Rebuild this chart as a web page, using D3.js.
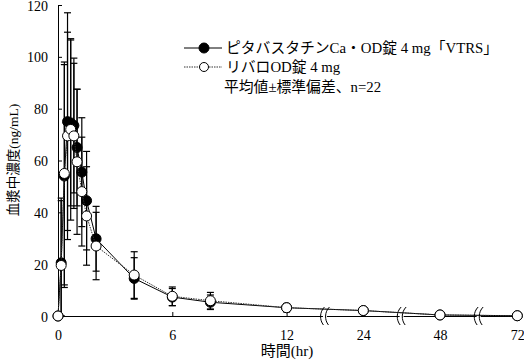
<!DOCTYPE html>
<html><head><meta charset="utf-8">
<script src="https://cdn.jsdelivr.net/npm/d3@7"></script>
<style>
html,body{margin:0;padding:0;background:#fff;}
text{font-family:"Liberation Serif","Noto Sans CJK JP",serif;fill:#000;}
</style></head>
<body><svg id="c" width="524" height="360"></svg>
<script>
const times = [0, 1/6, 1/3, 0.5, 2/3, 5/6, 1, 1.25, 1.5, 2, 4, 6, 8, 12, 24, 48, 72];
const testMean = [0, 20.5, 54, 75, 74.5, 73.5, 65, 55.5, 44.5, 29.8, 14.5, 7.3, 5.3, 3.2, 2.1, 0.4, 0.1];
const testSD   = [0, 24, 43, 42, 32, 26, 22.5, 21, 19, 12.5, 8, 3.3, 2.8, 1.5, 1, 0.3, 0.1];
const refMean  = [0, 19.5, 55, 69.5, 72, 69.5, 59.5, 48, 38.6, 27, 15.8, 7.6, 5.9, 3.2, 2.1, 0.4, 0.1];
const refSD    = [0, 26, 43, 40, 35, 28, 28, 21, 19, 13, 9, 3.6, 3.2, 1.6, 1, 0.3, 0.1];
const xTicks = [0, 6, 12, 24, 48, 72];
const yTicks = [0, 20, 40, 60, 80, 100, 120];
const xBreaks = [18, 36, 60];
const seriesNames = ["ピタバスタチンCa・OD錠 4 mg「VTRS」", "リバロOD錠 4 mg"];
const noteText = "平均値±標準偏差、n=22";
const xTitle = "時間(hr)";
const yTitle = "血漿中濃度(ng/mL)";

const svg = d3.select("#c");
const x = d3.scaleLinear().domain([0, 12, 24, 48, 72]).range([58, 286.6, 363.3, 440, 517.3]);
const y = d3.scaleLinear().domain([0, 120]).range([316, 5]);

// axes
const yAxis = d3.axisLeft(y).tickValues(yTicks).tickSize(-4).tickPadding(10).tickSizeOuter(0);
const gy = svg.append("g").attr("transform", `translate(${x(0)},0)`).call(yAxis);
gy.selectAll("text").attr("font-size", 14).attr("dy", "0.36em");
gy.select(".domain").attr("stroke", "#000");
const xAxis = d3.axisBottom(x).tickValues(xTicks).tickSize(-4).tickPadding(14).tickSizeOuter(0);
const gx = svg.append("g").attr("transform", `translate(0,${y(0)})`).call(xAxis);
gx.selectAll("text").attr("font-size", 14);
gx.select(".domain").attr("d", `M${x(0)},0.5H${x(72)}`);

// axis breaks
const gb = svg.append("g");
xBreaks.forEach(b => {
  const bx = x(b), by = y(0);
  gb.append("rect").attr("x", bx - 2).attr("y", by - 2).attr("width", 4).attr("height", 4).attr("fill", "#fff");
  [-2.5, 2.5].forEach(o => {
    gb.append("path")
      .attr("d", `M${bx + o + 2},${by - 9} C${bx + o - 3},${by - 4} ${bx + o - 3},${by + 4} ${bx + o + 1},${by + 9}`)
      .attr("fill", "none").attr("stroke", "#000").attr("stroke-width", 1);
  });
});

function drawSeries(mean, sd, filled, dash) {
  const g = svg.append("g");
  const data = times.map((t, i) => ({t, m: mean[i], s: sd[i]}));
  data.filter(d => d.s > 0).forEach(d => {
    const cx = x(d.t), y1 = y(d.m + d.s), y2 = y(Math.max(0, d.m - d.s));
    g.append("line").attr("x1", cx).attr("x2", cx).attr("y1", y1).attr("y2", y2).attr("stroke", "#000").attr("stroke-width", 1.2);
    g.append("line").attr("x1", cx - 3.5).attr("x2", cx + 3.5).attr("y1", y1).attr("y2", y1).attr("stroke", "#000").attr("stroke-width", 1.2);
    g.append("line").attr("x1", cx - 3.5).attr("x2", cx + 3.5).attr("y1", y2).attr("y2", y2).attr("stroke", "#000").attr("stroke-width", 1.2);
  });
  const line = d3.line().x(d => x(d.t)).y(d => y(d.m));
  g.append("path").datum(data).attr("d", line).attr("fill", "none")
    .attr("stroke", dash ? "#333" : "#000").attr("stroke-width", 1)
    .attr("stroke-dasharray", dash ? "1.5,1" : null);
  g.selectAll("circle").data(data).join("circle")
    .attr("cx", d => x(d.t)).attr("cy", d => y(d.m)).attr("r", 5)
    .attr("fill", filled ? "#000" : "#fff").attr("stroke", "#000").attr("stroke-width", 1);
}
drawSeries(testMean, testSD, true, false);
drawSeries(refMean, refSD, false, true);

// legend
const lg = svg.append("g");
const rows = [48, 67];
[[true, false], [false, true]].forEach(([filled, dash], i) => {
  const ly = rows[i];
  lg.append("line").attr("x1", 184).attr("x2", 222).attr("y1", ly).attr("y2", ly)
    .attr("stroke", dash ? "#333" : "#000").attr("stroke-width", 1).attr("stroke-dasharray", dash ? "1.5,1" : null);
  lg.append("circle").attr("cx", 204).attr("cy", ly).attr("r", filled ? 5 : 4.5)
    .attr("fill", filled ? "#000" : "#fff").attr("stroke", "#000");
  lg.append("text").attr("x", 226).attr("y", ly + 5).attr("font-size", 14.8).text(seriesNames[i]);
});
lg.append("text").attr("x", 224).attr("y", 92).attr("font-size", 14.8).text(noteText);

// titles
svg.append("text").attr("x", 287).attr("y", 356).attr("text-anchor", "middle").attr("font-size", 15).text(xTitle);
svg.append("text").attr("transform", "translate(13,160) rotate(-90)").attr("text-anchor", "middle")
  .attr("dominant-baseline", "central").attr("font-size", 13.5).text(yTitle);
</script></body></html>
